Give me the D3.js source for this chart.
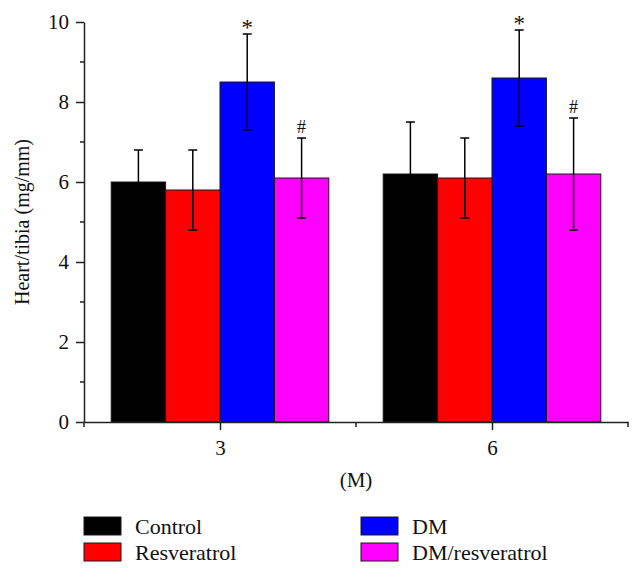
<!DOCTYPE html>
<html>
<head>
<meta charset="utf-8">
<script src="https://cdn.jsdelivr.net/npm/d3@7"></script>
<style>
  body { margin: 0; background: #fff; }
  svg text { font-family: "Liberation Serif", "Times New Roman", serif; fill: #111; }
</style>
</head>
<body>
<div id="chart"></div>
<script>
// ---------- Data ---------- //
var months = [3, 6];
var series = ["Control", "Resveratrol", "DM", "DM/resveratrol"];
var colors = ["#000000", "#ff0000", "#0000ff", "#ff00ff"];

var controlMean = [6.0, 6.2];
var resveratrolMean = [5.8, 6.1];
var dmMean = [8.5, 8.6];
var dmResMean = [6.1, 6.2];

var controlErr = [0.8, 1.3];
var resveratrolErr = [1.0, 1.0];
var dmErr = [1.2, 1.2];
var dmResErr = [1.0, 1.4];

var dmMark = ["*", "*"];
var dmResMark = ["#", "#"];

var yTicks = [0, 2, 4, 6, 8, 10];
var yMinor = [1, 3, 5, 7, 9];
var xMinor = [1.5, 4.5, 7.5];

var means = [controlMean, resveratrolMean, dmMean, dmResMean];
var errs = [controlErr, resveratrolErr, dmErr, dmResErr];
var marks = [null, null, dmMark, dmResMark];

var rows = [];
months.forEach(function(m, j) {
  series.forEach(function(s, i) {
    rows.push({month: m, name: s, color: colors[i], value: means[i][j], err: errs[i][j],
               mark: marks[i] ? marks[i][j] : null});
  });
});

// ---------- Layout ---------- //
var width = 642, height = 577;
var margin = {top: 22, left: 84, right: 14, bottom: 155};

var svg = d3.select("#chart").append("svg")
  .attr("width", width)
  .attr("height", height);

var x = d3.scaleLinear().domain([1.5, 7.5]).range([margin.left, width - margin.right]);
var y = d3.scaleLinear().domain([0, 10]).range([height - margin.bottom, margin.top]);
var inner = d3.scaleBand().domain(series).range([-1.2, 1.2]);

// bars
svg.append("g")
  .selectAll("rect")
  .data(rows)
  .join("rect")
  .attr("x", d => x(d.month + inner(d.name)))
  .attr("width", d => x(d.month + inner(d.name) + inner.bandwidth()) - x(d.month + inner(d.name)))
  .attr("y", d => y(d.value))
  .attr("height", d => y(0) - y(d.value))
  .attr("fill", d => d.color)
  .attr("stroke", "#1a1a1a")
  .attr("stroke-width", 1);

// error bars
var cx = d => x(d.month + inner(d.name) + inner.bandwidth() / 2);
var eb = svg.append("g")
  .attr("stroke", "#000")
  .attr("stroke-width", 1.5);
eb.selectAll("line.v").data(rows).join("line").attr("class", "v")
  .attr("x1", cx).attr("x2", cx)
  .attr("y1", d => y(d.value + d.err)).attr("y2", d => y(d.value - d.err));
eb.selectAll("line.t").data(rows).join("line").attr("class", "t")
  .attr("x1", d => cx(d) - 4.5).attr("x2", d => cx(d) + 4.5)
  .attr("y1", d => y(d.value + d.err)).attr("y2", d => y(d.value + d.err));
eb.selectAll("line.b").data(rows).join("line").attr("class", "b")
  .attr("x1", d => cx(d) - 4.5).attr("x2", d => cx(d) + 4.5)
  .attr("y1", d => y(d.value - d.err)).attr("y2", d => y(d.value - d.err));

// significance marks
svg.append("g")
  .selectAll("text")
  .data(rows.filter(d => d.mark))
  .join("text")
  .attr("x", cx)
  .attr("y", d => y(d.value + d.err) - (d.mark == "#" ? 5 : -1))
  .attr("text-anchor", "middle")
  .attr("font-size", d => d.mark == "#" ? 18 : 23)
  .text(d => d.mark);

// y axis
var yAxis = svg.append("g")
  .attr("transform", `translate(${margin.left},0)`)
  .call(d3.axisLeft(y).tickValues(yTicks).tickSize(8).tickSizeOuter(0).tickPadding(7));
yAxis.selectAll(".tick text").attr("font-size", 21).attr("font-family", null);
yAxis.append("g").selectAll("line").data(yMinor).join("line")
  .attr("x1", -4).attr("x2", 0)
  .attr("y1", d => y(d)).attr("y2", d => y(d));

// x axis
var xAxis = svg.append("g")
  .attr("transform", `translate(0,${y(0)})`)
  .call(d3.axisBottom(x).tickValues(months).tickFormat(d3.format("d"))
        .tickSize(8).tickSizeOuter(0).tickPadding(10));
xAxis.selectAll(".tick text").attr("font-size", 21).attr("font-family", null);
xAxis.append("g").selectAll("line").data(xMinor).join("line")
  .attr("x1", d => x(d)).attr("x2", d => x(d))
  .attr("y1", 0).attr("y2", 5);

svg.selectAll(".domain, .tick line").attr("stroke", "#222").attr("stroke-width", 1.5);
svg.selectAll("g line").filter(function(){ return !this.getAttribute("stroke-width") && !this.parentNode.getAttribute("stroke"); })
  .attr("stroke", "#222").attr("stroke-width", 1.5);

// axis titles
svg.append("text")
  .attr("transform", "translate(29,222) rotate(-90)")
  .attr("text-anchor", "middle")
  .attr("font-size", 20)
  .text("Heart/tibia (mg/mm)");

svg.append("text")
  .attr("x", x(4.5))
  .attr("y", 487)
  .attr("text-anchor", "middle")
  .attr("font-size", 21)
  .text("(M)");

// ---------- Legend ---------- //
var legendPos = [[84, 517], [84, 543], [361, 517], [361, 543]];
var legend = svg.append("g")
  .selectAll("g")
  .data(series)
  .join("g")
  .attr("transform", (d, i) => `translate(${legendPos[i][0]},${legendPos[i][1]})`);
legend.append("rect")
  .attr("width", 37).attr("height", 18)
  .attr("fill", (d, i) => colors[i])
  .attr("stroke", "#1a1a1a").attr("stroke-width", 1);
legend.append("text")
  .attr("x", 51).attr("y", 17)
  .attr("font-size", 22)
  .text(d => d);
</script>
</body>
</html>
